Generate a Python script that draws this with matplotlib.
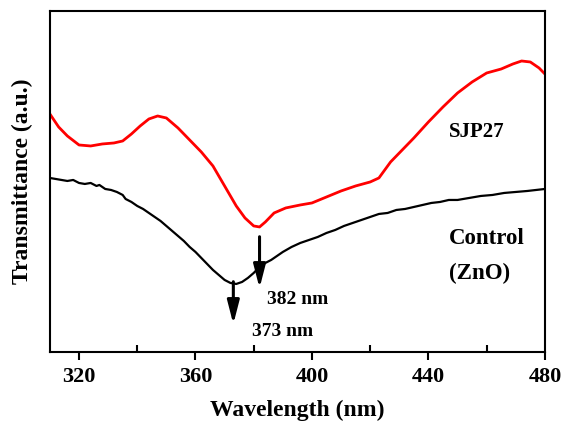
import numpy as np
import matplotlib
matplotlib.use('Agg')
import matplotlib.pyplot as plt
from matplotlib.ticker import MultipleLocator

# values (arbitrary transmittance units)
wl_sjp = [310, 313, 316, 320, 324, 328, 332, 335, 338, 341, 344, 347, 350,
          354, 358, 362, 366, 370, 374, 377, 380, 382, 384, 387, 391, 396,
          400, 405, 410, 415, 420, 423, 427, 431, 435, 440, 445, 450, 455,
          460, 465, 469, 472, 475, 478, 480]
t_sjp = [238, 225, 216, 207, 206, 208, 209, 211, 218, 226, 233, 236, 234,
         224, 212, 200, 186, 166, 146, 134, 126, 125, 130, 139, 144, 147,
         149, 155, 161, 166, 170, 174, 190, 202, 214, 230, 245, 259, 270,
         279, 283, 288, 291, 290, 284, 278]

wl_ctrl = [310, 312, 314, 316, 318, 320, 322, 324, 326, 327, 329, 331, 333,
           335, 336, 338, 340, 342, 344, 346, 348, 350, 352, 354, 356, 358,
           360, 362, 364, 366, 368, 370, 372, 374, 376, 378, 380, 382, 384,
           386, 388, 390, 393, 396, 399, 402, 405, 408, 411, 414, 417, 420,
           423, 426, 429, 432, 435, 438, 441, 444, 447, 450, 454, 458, 462,
           466, 470, 474, 477, 480]
t_ctrl = [174, 173, 172, 171, 172, 169, 168, 169, 166, 167, 163, 162, 160,
          157, 153, 150, 146, 143, 139, 135, 131, 126, 121, 116, 111, 105,
          100, 94, 88, 82, 77, 72, 69, 68, 70, 74, 79, 85, 89, 92, 96,
          100, 105, 109, 112, 115, 119, 122, 126, 129, 132, 135, 138, 139,
          142, 143, 145, 147, 149, 150, 152, 152, 154, 156, 157, 159, 160,
          161, 162, 163]

peaks = [382, 373]
peak_labels = ['382 nm', '373 nm']

plt.rcParams['font.family'] = ['Liberation Serif', 'DejaVu Serif']
plt.rcParams['font.weight'] = 'bold'

fig = plt.figure(figsize=(5.67, 4.23), dpi=100)
ax = fig.add_axes([0.088, 0.168, 0.873, 0.806])

ax.plot(wl_sjp, t_sjp, color='#ff0000', lw=2.0)
ax.plot(wl_ctrl, t_ctrl, color='black', lw=1.6)

# arrows marking the band minima
arrow_style = dict(arrowstyle='-|>,head_length=0.7,head_width=0.18',
                   color='black', lw=2.2, mutation_scale=20)
ax.annotate('', xy=(peaks[0], 61), xytext=(peaks[0], 118), arrowprops=arrow_style)
ax.annotate('', xy=(peaks[1], 25), xytext=(peaks[1], 73), arrowprops=arrow_style)
ax.text(384.5, 52, peak_labels[0], fontsize=14, fontweight='bold', va='center')
ax.text(379.5, 20, peak_labels[1], fontsize=14, fontweight='bold', va='center')

ax.text(447, 220, 'SJP27', fontsize=15, fontweight='bold', va='center')
ax.text(447, 113, 'Control', fontsize=16.5, fontweight='bold', va='center')
ax.text(447, 78, '(ZnO)', fontsize=16.5, fontweight='bold', va='center')

ax.set_xlim(310, 480)
ax.set_ylim(0, 341)
ax.xaxis.set_major_locator(MultipleLocator(40))
ax.xaxis.set_minor_locator(MultipleLocator(20))
ax.tick_params(axis='x', which='major', direction='out', length=6, width=1.5,
               labelsize=16, pad=5)
ax.tick_params(axis='x', which='minor', direction='in', length=5, width=1.5)
ax.set_yticks([])
for lab in ax.get_xticklabels():
    lab.set_fontweight('bold')
for s in ax.spines.values():
    s.set_linewidth(1.5)

ax.set_xlabel('Wavelength (nm)', fontsize=17, fontweight='bold', labelpad=9)
ax.set_ylabel('Transmittance (a.u.)', fontsize=17, fontweight='bold', labelpad=12)

fig.savefig('out.png', dpi=100)
